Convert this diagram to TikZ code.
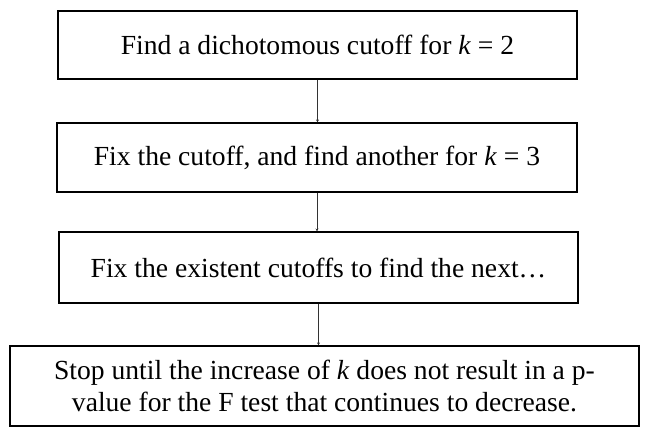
\documentclass[tikz,border=0pt]{standalone}
\usepackage{fontspec}
\setmainfont{Liberation Serif}
\usepackage{tikz}
\usetikzlibrary{arrows.meta}
\tikzset{
  stepbox/.style={draw=black, line width=1.1pt, inner sep=0pt, align=center,
    font=\fontsize{27.6}{32}\selectfont},
  flow/.style={draw=black!80, line width=0.8pt, -{Stealth[length=3pt,width=3pt]}},
}

\begin{document}
\begin{tikzpicture}[x=1pt,y=1pt]
  \useasboundingbox (0,0) rectangle (654,-437);
  \node[stepbox,minimum width=519pt,minimum height=68pt] (find) at (317.5,-45) {Find a dichotomous cutoff for \textit{k} = 2};
  \node[stepbox,minimum width=520pt,minimum height=69pt] (fix) at (317,-157.5) {Fix the cutoff, and find another for \textit{k} = 3};
  \node[stepbox,minimum width=519pt,minimum height=71pt] (next) at (318.5,-267.5) {Fix the existent cutoffs to find the next\dots};
  \node[stepbox,minimum width=629pt,minimum height=80pt] (stop) at (324.5,-386) {Stop until the increase of \textit{k} does not result in a p-\\value for the F test that continues to decrease.};
  \draw[flow] (find.south) -- (find.south |- fix.north);
  \draw[flow] (fix.south) -- (fix.south |- next.north);
  \draw[flow] (next.south) -- (next.south |- stop.north);
\end{tikzpicture}
\end{document}
